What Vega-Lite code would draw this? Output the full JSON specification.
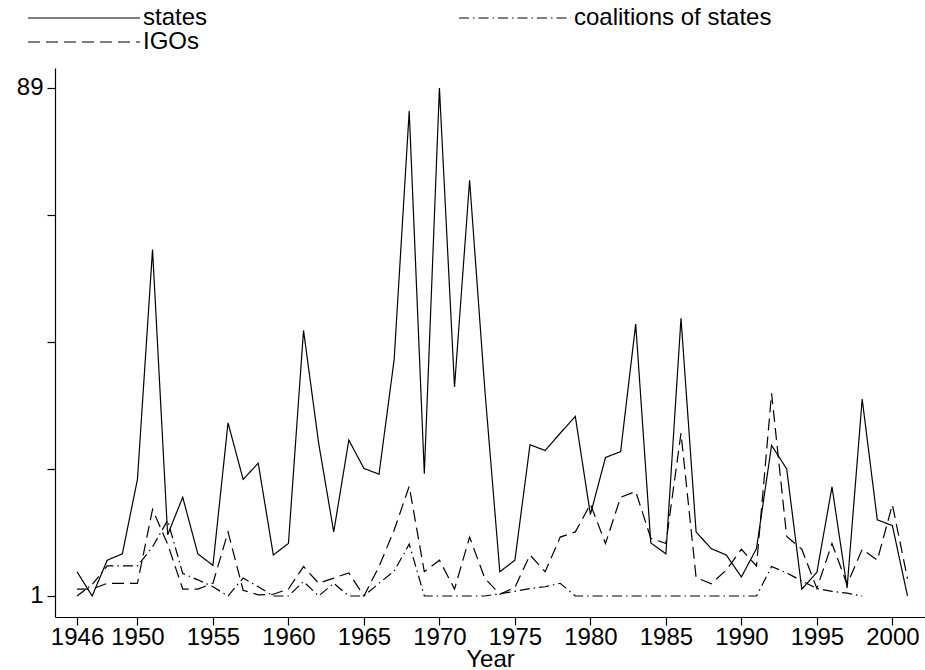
{
  "$schema": "https://vega.github.io/schema/vega-lite/v6.json",
  "width": 870,
  "height": 549,
  "autosize": {"type": "none"},
  "padding": {"left": 55, "top": 68, "right": 0, "bottom": 53},
  "background": "white",
  "config": {
    "font": "Liberation Sans, Arial, sans-serif",
    "view": {"stroke": null},
    "axis": {"grid": false, "domainColor": "black", "domainWidth": 1.2, "tickColor": "black", "tickWidth": 1.2, "tickSize": 8, "labelColor": "black", "labelFontSize": 24, "titleColor": "black", "titleFontSize": 24, "titleFontWeight": "normal", "labelFont": "Liberation Sans, Arial, sans-serif", "titleFont": "Liberation Sans, Arial, sans-serif"}
  },
  "data": {
    "values": [
      {"year": 1946, "states": 5.2, "IGOs": 2.2, "coalitions of states": 1},
      {"year": 1947, "states": 1, "IGOs": 2.2, "coalitions of states": 3},
      {"year": 1948, "states": 7.2, "IGOs": 3.2, "coalitions of states": 6.2},
      {"year": 1949, "states": 8.3, "IGOs": 3.2, "coalitions of states": 6.2},
      {"year": 1950, "states": 21.2, "IGOs": 3.2, "coalitions of states": 6.2},
      {"year": 1951, "states": 61, "IGOs": 16, "coalitions of states": 9.5},
      {"year": 1952, "states": 11.6, "IGOs": 10, "coalitions of states": 14.1},
      {"year": 1953, "states": 18.1, "IGOs": 2.2, "coalitions of states": 4.9},
      {"year": 1954, "states": 8.3, "IGOs": 2.2, "coalitions of states": 3.8},
      {"year": 1955, "states": 6.3, "IGOs": 3.2, "coalitions of states": 2.6},
      {"year": 1956, "states": 31, "IGOs": 12.1, "coalitions of states": 1},
      {"year": 1957, "states": 21.2, "IGOs": 2.0, "coalitions of states": 4.1},
      {"year": 1958, "states": 24, "IGOs": 1.2, "coalitions of states": 2.6},
      {"year": 1959, "states": 8.1, "IGOs": 1.3, "coalitions of states": 1},
      {"year": 1960, "states": 10.1, "IGOs": 2.2, "coalitions of states": 1},
      {"year": 1961, "states": 47, "IGOs": 6.1, "coalitions of states": 3.5},
      {"year": 1962, "states": 27.5, "IGOs": 3.2, "coalitions of states": 1},
      {"year": 1963, "states": 12.1, "IGOs": 4.1, "coalitions of states": 3.2},
      {"year": 1964, "states": 28, "IGOs": 5.0, "coalitions of states": 1},
      {"year": 1965, "states": 23.1, "IGOs": 1, "coalitions of states": 1},
      {"year": 1966, "states": 22.1, "IGOs": 6.1, "coalitions of states": 3.2},
      {"year": 1967, "states": 41.9, "IGOs": 12.4, "coalitions of states": 5.3},
      {"year": 1968, "states": 85, "IGOs": 20, "coalitions of states": 10},
      {"year": 1969, "states": 22.2, "IGOs": 5.2, "coalitions of states": 1},
      {"year": 1970, "states": 89, "IGOs": 7.2, "coalitions of states": 1},
      {"year": 1971, "states": 37.2, "IGOs": 2.2, "coalitions of states": 1},
      {"year": 1972, "states": 73, "IGOs": 11.2, "coalitions of states": 1},
      {"year": 1973, "states": 37, "IGOs": 4.1, "coalitions of states": 1},
      {"year": 1974, "states": 5.2, "IGOs": 1.3, "coalitions of states": 1.4},
      {"year": 1975, "states": 7.2, "IGOs": 2.5, "coalitions of states": 1.8},
      {"year": 1976, "states": 27.2, "IGOs": 8.1, "coalitions of states": 2.3},
      {"year": 1977, "states": 26.2, "IGOs": 5.2, "coalitions of states": 2.6},
      {"year": 1978, "states": 29.2, "IGOs": 11.2, "coalitions of states": 3.2},
      {"year": 1979, "states": 32.1, "IGOs": 12.1, "coalitions of states": 1},
      {"year": 1980, "states": 15.1, "IGOs": 16.9, "coalitions of states": 1},
      {"year": 1981, "states": 25, "IGOs": 10.1, "coalitions of states": 1},
      {"year": 1982, "states": 26, "IGOs": 18.1, "coalitions of states": 1},
      {"year": 1983, "states": 48.1, "IGOs": 19.1, "coalitions of states": 1},
      {"year": 1984, "states": 10.2, "IGOs": 11, "coalitions of states": 1},
      {"year": 1985, "states": 8.3, "IGOs": 10.1, "coalitions of states": 1},
      {"year": 1986, "states": 49.1, "IGOs": 29.2, "coalitions of states": 1},
      {"year": 1987, "states": 12.1, "IGOs": 4.2, "coalitions of states": 1},
      {"year": 1988, "states": 9.2, "IGOs": 3.1, "coalitions of states": 1},
      {"year": 1989, "states": 8.1, "IGOs": 5.5, "coalitions of states": 1},
      {"year": 1990, "states": 4.3, "IGOs": 9.1, "coalitions of states": 1},
      {"year": 1991, "states": 9.2, "IGOs": 6.2, "coalitions of states": 1},
      {"year": 1992, "states": 27.1, "IGOs": 36.1, "coalitions of states": 6.1},
      {"year": 1993, "states": 23, "IGOs": 11.3, "coalitions of states": 5},
      {"year": 1994, "states": 2.2, "IGOs": 9.1, "coalitions of states": 3.6},
      {"year": 1995, "states": 5.1, "IGOs": 2.3, "coalitions of states": 2.3},
      {"year": 1996, "states": 19.9, "IGOs": 10.1, "coalitions of states": 1.8},
      {"year": 1997, "states": 2.4, "IGOs": 3, "coalitions of states": 1.5},
      {"year": 1998, "states": 35.1, "IGOs": 9.1, "coalitions of states": 1},
      {"year": 1999, "states": 14.2, "IGOs": 7.2},
      {"year": 2000, "states": 13.2, "IGOs": 16.8},
      {"year": 2001, "states": 1, "IGOs": 4}
    ]
  },
  "transform": [
    {"fold": ["states", "IGOs", "coalitions of states"], "as": ["series", "value"]},
    {"filter": "isValid(datum.value)"}
  ],
  "mark": {"type": "line", "color": "black", "strokeWidth": 1.2},
  "encoding": {
    "x": {
      "field": "year",
      "type": "quantitative",
      "scale": {"domain": [1944.54, 2002.16], "nice": false, "zero": false},
      "axis": {
        "values": [1946, 1950, 1955, 1960, 1965, 1970, 1975, 1980, 1985, 1990, 1995, 2000],
        "format": "d",
        "title": "Year",
        "labelPadding": 0,
        "titlePadding": -2,
        "labelFlush": false,
        "labelOverlap": false
      }
    },
    "y": {
      "field": "value",
      "type": "quantitative",
      "scale": {"domain": [-2.64, 92.46], "nice": false, "zero": false},
      "axis": {
        "values": [1, 23, 45, 67, 89],
        "labelExpr": "datum.value == 1 || datum.value == 89 ? datum.label : ''",
        "title": null,
        "labelPadding": 4
      }
    },
    "strokeDash": {
      "field": "series",
      "type": "nominal",
      "sort": ["states", "IGOs", "coalitions of states"],
      "scale": {
        "domain": ["states", "IGOs", "coalitions of states"],
        "range": [[1, 0], [12, 6], [10, 4, 1.5, 4]]
      },
      "legend": {
        "orient": "none",
        "legendX": 59,
        "legendY": -62,
        "columns": 2,
        "title": null,
        "padding": 0,
        "values": ["states", "IGOs", "coalitions of states"],
        "symbolType": "M-9.8,0H1.4",
        "symbolSize": 400,
        "symbolStrokeColor": "black",
        "symbolStrokeWidth": 1.2,
        "labelFontSize": 24,
        "labelColor": "black",
        "labelFont": "Liberation Sans, Arial, sans-serif",
        "labelOffset": 5,
        "labelLimit": 400,
        "columnPadding": 248,
        "rowPadding": 0
      }
    }
  }
}
